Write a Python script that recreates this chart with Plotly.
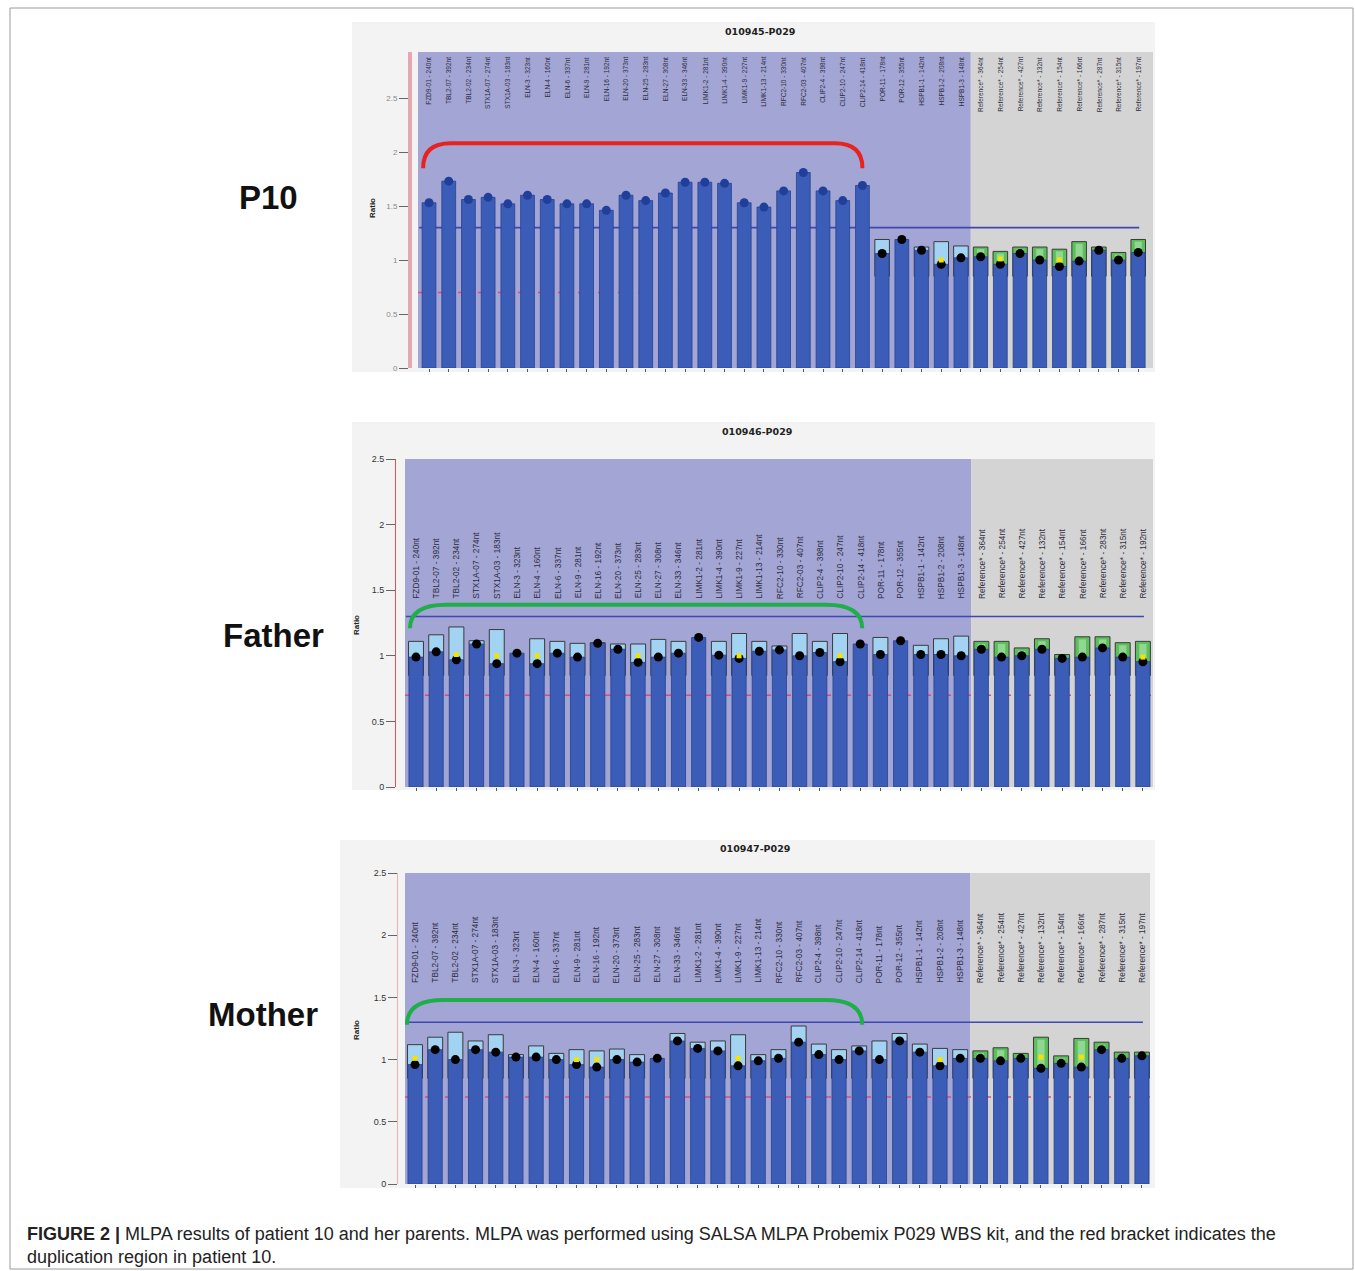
import plotly.graph_objects as go

W, H = 1355, 1271

# ---------------- data ----------------
test_probes = ["FZD9-01 - 240nt", "TBL2-07 - 392nt", "TBL2-02 - 234nt", "STX1A-07 - 274nt",
               "STX1A-03 - 183nt", "ELN-3 - 323nt", "ELN-4 - 160nt", "ELN-6 - 337nt",
               "ELN-9 - 281nt", "ELN-16 - 192nt", "ELN-20 - 373nt", "ELN-25 - 283nt",
               "ELN-27 - 308nt", "ELN-33 - 346nt", "LIMK1-2 - 281nt", "LIMK1-4 - 390nt",
               "LIMK1-9 - 227nt", "LIMK1-13 - 214nt", "RFC2-10 - 330nt", "RFC2-03 - 407nt",
               "CLIP2-4 - 398nt", "CLIP2-10 - 247nt", "CLIP2-14 - 418nt", "POR-11 - 178nt",
               "POR-12 - 355nt", "HSPB1-1 - 142nt", "HSPB1-2 - 208nt", "HSPB1-3 - 148nt"]
ref_probes_a = ["Reference* - 364nt", "Reference* - 254nt", "Reference* - 427nt",
                "Reference* - 132nt", "Reference* - 154nt", "Reference* - 166nt",
                "Reference* - 287nt", "Reference* - 315nt", "Reference* - 197nt"]
ref_probes_b = ["Reference* - 364nt", "Reference* - 254nt", "Reference* - 427nt",
                "Reference* - 132nt", "Reference* - 154nt", "Reference* - 166nt",
                "Reference* - 283nt", "Reference* - 315nt", "Reference* - 192nt"]

panel_titles = ["010945-P029", "010946-P029", "010947-P029"]
panel_names = ["P10", "Father", "Mother"]

p10_ratio = [1.53, 1.73, 1.56, 1.58, 1.52, 1.60, 1.56, 1.52, 1.52, 1.46, 1.60, 1.55,
             1.62, 1.72, 1.72, 1.71, 1.53, 1.49, 1.64, 1.81, 1.64, 1.55, 1.69,
             1.06, 1.19, 1.09, 0.96, 1.02,
             1.03, 0.96, 1.06, 1.00, 0.94, 0.99, 1.09, 1.00, 1.07]
p10_box = [None] * 23 + [1.19, None, 1.12, 1.17, 1.13,
                         1.12, 1.08, 1.12, 1.12, 1.10, 1.17, 1.12, 1.07, 1.19]
p10_mark = [None] * 26 + [1.00, None, None, 1.01, None, None, 1.00, None, None, None, None]

father_ratio = [0.99, 1.03, 0.97, 1.09, 0.94, 1.02, 0.94, 1.02, 0.99, 1.095, 1.05, 0.95,
                0.99, 1.02, 1.14, 1.005, 0.98, 1.035, 1.045, 1.00, 1.025, 0.955, 1.09,
                1.01, 1.115, 1.01, 1.01, 1.00,
                1.05, 0.99, 1.00, 1.05, 0.98, 0.99, 1.06, 0.99, 0.955]
father_box = [1.11, 1.16, 1.22, 1.115, 1.20, None, 1.13, 1.11, 1.095, 1.10, 1.09, 1.09,
              1.125, 1.11, None, 1.11, 1.17, 1.11, 1.075, 1.17, 1.11, 1.17, None,
              1.14, None, 1.08, 1.13, 1.15,
              1.11, 1.11, 1.06, 1.13, 1.01, 1.145, 1.145, 1.10, 1.11]
father_mark = [None, None, 1.01, None, 1.00, None, 1.00, None, None, None, None, 1.00,
               None, None, None, None, 1.00, None, None, None, None, 1.00, None,
               None, None, None, None, None,
               None, None, None, None, None, None, None, None, 0.99]

mother_ratio = [0.96, 1.08, 1.00, 1.08, 1.06, 1.02, 1.02, 1.00, 0.96, 0.94, 1.00, 0.98,
                1.01, 1.15, 1.09, 1.07, 0.95, 0.99, 1.01, 1.14, 1.04, 1.00, 1.07,
                1.00, 1.15, 1.06, 0.95, 1.01,
                1.01, 0.99, 1.01, 0.93, 0.97, 0.94, 1.08, 1.01, 1.03]
mother_box = [1.12, 1.18, 1.22, 1.15, 1.20, 1.04, 1.11, 1.05, 1.08, 1.07, 1.085, 1.04,
              None, 1.21, 1.14, 1.15, 1.20, 1.04, 1.08, 1.27, 1.125, 1.08, 1.11,
              1.15, 1.21, 1.125, 1.09, 1.08,
              1.07, 1.095, 1.05, 1.18, 1.03, 1.17, 1.14, 1.06, 1.06]
mother_mark = [1.01, None, None, None, None, None, None, None, 1.00, 1.00, None, None,
               None, None, None, None, 1.01, None, None, None, None, None, None,
               None, None, None, 1.00, None,
               None, None, None, 1.02, None, 1.02, None, None, None]

y_ticks = [0, 0.5, 1, 1.5, 2, 2.5]
y_tick_text = ["0", "0.5", "1", "1.5", "2", "2.5"]
upper_limit = 1.3
lower_limit = 0.7

# ---------------- layout helpers ----------------
def px_x(p):
    return p / W

def px_y(p):
    return 1 - p / H

n = len(test_probes) + len(ref_probes_a)
n_test = len(test_probes)
idx = list(range(n))

panels = [
    dict(ratio=p10_ratio, box=p10_box, mark=p10_mark, labels=test_probes + ref_probes_a,
         xdom=(418, 1153), ydom=(52, 368), xr=(-0.56, 36.75), yr=(0, 2.926),
         axis_px=410, axis_color="#e6a8b0", axis_w=4, tickfont=dict(size=8, color="#8a8a8a"),
         bg=(352, 22, 1155, 372), title_xy=(760, 31), name_xy=(268, 198), ratio_xy=(372, 208),
         lab_y=2.9, lab_anchor="top", lab_size=6.5,
         bracket=dict(xl=-0.3, xr=22.0, yb=1.85, yt=2.08, rx=1.4, color="#e8231f"),
         dot_color=["#1f3f9a"] * 23 + ["#000000"] * 14, dot_size=9),
    dict(ratio=father_ratio, box=father_box, mark=father_mark, labels=test_probes + ref_probes_b,
         xdom=(405, 1153), ydom=(459, 787), xr=(-0.545, 36.5), yr=(0, 2.5),
         axis_px=395, axis_color="#d9534f", axis_w=1, tickfont=dict(size=9, color="#333333"),
         bg=(352, 422, 1155, 790), title_xy=(757, 432), name_xy=(273, 635), ratio_xy=(356, 625),
         lab_y=1.42, lab_anchor="bottom", lab_size=8.3,
         bracket=dict(xl=-0.3, xr=22.1, yb=1.21, yt=1.39, rx=1.8, color="#1fae4a"),
         dot_color=["#000000"] * n, dot_size=9),
    dict(ratio=mother_ratio, box=mother_box, mark=mother_mark, labels=test_probes + ref_probes_a,
         xdom=(405, 1150), ydom=(873, 1184), xr=(-0.495, 36.4), yr=(0, 2.5),
         axis_px=397, axis_color="#e8b0b0", axis_w=1, tickfont=dict(size=9, color="#333333"),
         bg=(340, 840, 1155, 1188), title_xy=(755, 848), name_xy=(263, 1014), ratio_xy=(356, 1030),
         lab_y=1.6, lab_anchor="bottom", lab_size=8.3,
         bracket=dict(xl=-0.4, xr=22.15, yb=1.28, yt=1.48, rx=1.8, color="#1fae4a"),
         dot_color=["#000000"] * n, dot_size=9),
]

fig = go.Figure()
shapes = []
annotations = []
layout_axes = {}

BOX_BASE = 0.85
purple = "#a3a5d5"
grey = "#d4d4d4"

for k, p in enumerate(panels):
    sfx = "" if k == 0 else str(k + 1)
    xa, ya = "x" + sfx, "y" + sfx
    xkey, ykey = "xaxis" + sfx, "yaxis" + sfx

    # panel image background
    bx0, by0, bx1, by1 = p["bg"]
    shapes.append(dict(type="rect", xref="paper", yref="paper", x0=px_x(bx0), x1=px_x(bx1),
                       y0=px_y(by1), y1=px_y(by0), fillcolor="#f3f3f3", line=dict(width=0),
                       layer="below"))
    # purple (test) and grey (reference) regions
    shapes.append(dict(type="rect", xref=xa, yref=ya + " domain", x0=p["xr"][0], x1=n_test - 0.5,
                       y0=0, y1=1, fillcolor=purple, line=dict(width=0), layer="below"))
    shapes.append(dict(type="rect", xref=xa, yref=ya + " domain", x0=n_test - 0.5, x1=p["xr"][1],
                       y0=0, y1=1, fillcolor=grey, line=dict(width=0), layer="below"))
    # limit lines
    shapes.append(dict(type="line", xref=xa, yref=ya, x0=-0.5, x1=36.05, y0=upper_limit,
                       y1=upper_limit, line=dict(color="#3f47b3", width=1.6), layer="below"))
    shapes.append(dict(type="line", xref=xa, yref=ya, x0=p["xr"][0], x1=p["xr"][1], y0=lower_limit,
                       y1=lower_limit, line=dict(color="#e8457a", width=1.5, dash="6px,14px"),
                       layer="below"))
    # bracket
    b = p["bracket"]
    path = (f"M {b['xl']},{b['yb']} Q {b['xl']},{b['yt']} {b['xl'] + b['rx']},{b['yt']} "
            f"L {b['xr'] - b['rx']},{b['yt']} Q {b['xr']},{b['yt']} {b['xr']},{b['yb']}")
    shapes.append(dict(type="path", xref=xa, yref=ya, path=path,
                       line=dict(color=b["color"], width=4), layer="above"))

    # range boxes
    box_h = [None if v is None else v - BOX_BASE for v in p["box"]]
    box_col = ["#a2d3f3"] * n_test + ["#5cbf5c"] * (n - n_test)
    fig.add_trace(go.Bar(x=idx, y=box_h, base=BOX_BASE, width=0.74, xaxis=xa, yaxis=ya,
                         marker=dict(color=box_col, line=dict(color="#3a3a3a", width=1)),
                         hoverinfo="skip"))
    # lighter centre of the reference boxes (gradient look)
    inner_h = [None if (v is None or i < n_test) else v - BOX_BASE - 0.02
               for i, v in enumerate(p["box"])]
    fig.add_trace(go.Bar(x=idx, y=inner_h, base=BOX_BASE, width=0.36, xaxis=xa, yaxis=ya,
                         marker=dict(color="rgba(190,235,190,0.55)", line=dict(width=0)),
                         hoverinfo="skip"))
    # ratio bars
    fig.add_trace(go.Bar(x=idx, y=p["ratio"], width=0.7, xaxis=xa, yaxis=ya,
                         marker=dict(color="#3b5db8", line=dict(color="#27418f", width=0.8))))
    # dots
    fig.add_trace(go.Scatter(x=idx, y=p["ratio"], mode="markers", xaxis=xa, yaxis=ya,
                             marker=dict(color=p["dot_color"], size=p["dot_size"])))
    # yellow markers
    fig.add_trace(go.Scatter(x=idx, y=p["mark"], mode="markers", xaxis=xa, yaxis=ya,
                             marker=dict(color="#f2e400", size=5, symbol="square")))

    layout_axes[xkey] = dict(domain=[px_x(p["xdom"][0]), px_x(p["xdom"][1])], range=list(p["xr"]),
                             anchor=ya, showgrid=False, zeroline=False, showline=False,
                             tickmode="array", tickvals=idx, showticklabels=False,
                             ticks="outside", ticklen=3, tickcolor="#555555", fixedrange=True)
    layout_axes[ykey] = dict(domain=[px_y(p["ydom"][1]), px_y(p["ydom"][0])], range=list(p["yr"]),
                             anchor="free", position=px_x(p["axis_px"]), showgrid=False,
                             zeroline=False, showline=True, linecolor=p["axis_color"],
                             linewidth=p["axis_w"], tickmode="array", tickvals=y_ticks,
                             ticktext=y_tick_text, ticks="outside", ticklen=9,
                             tickcolor="#666666", tickfont=dict(family="Liberation Sans", **p["tickfont"]),
                             fixedrange=True)

    # probe labels
    for i, lab in enumerate(p["labels"]):
        annotations.append(dict(x=i, y=p["lab_y"], xref=xa, yref=ya, text=lab, showarrow=False,
                                textangle=-90, yanchor=p["lab_anchor"], xanchor="center",
                                font=dict(family="Liberation Sans", size=p["lab_size"],
                                          color="#2e2e40")))
    # title
    tx, ty = p["title_xy"]
    annotations.append(dict(x=px_x(tx), y=px_y(ty), xref="paper", yref="paper",
                            xanchor="center", yanchor="middle",
                            text="<b>" + panel_titles[k] + "</b>", showarrow=False,
                            font=dict(family="DejaVu Sans", size=9.5, color="#222222")))
    # ratio
    rx, ry = p["ratio_xy"]
    annotations.append(dict(x=px_x(rx), y=px_y(ry), xref="paper", yref="paper", text="<b>Ratio</b>",
                            xanchor="center", yanchor="middle",
                            showarrow=False, textangle=-90,
                            font=dict(family="Liberation Sans", size=8, color="#222222")))
    # panel name
    nx, ny = p["name_xy"]
    annotations.append(dict(x=px_x(nx), y=px_y(ny), xref="paper", yref="paper",
                            xanchor="center", yanchor="middle",
                            text="<b>" + panel_names[k] + "</b>", showarrow=False,
                            font=dict(family="Liberation Sans", size=33, color="#111111")))

# outer frame
shapes.append(dict(type="rect", xref="paper", yref="paper", x0=px_x(10), x1=px_x(1353),
                   y0=px_y(1269), y1=px_y(8), line=dict(color="#9a9a9a", width=1),
                   fillcolor="rgba(0,0,0,0)", layer="below"))

caption = ("<b>FIGURE 2 |</b> MLPA results of patient 10 and her parents. MLPA was performed using "
           "SALSA MLPA Probemix P029 WBS kit, and the red bracket indicates the<br>"
           "duplication region in patient 10.")
annotations.append(dict(x=px_x(25), y=px_y(1245), xref="paper", yref="paper", text=caption,
                        showarrow=False, xanchor="left", yanchor="middle", align="left",
                        font=dict(family="Liberation Sans", size=18, color="#222222")))

fig.update_layout(width=W, height=H,
                  margin=dict(l=0, r=0, t=0, b=0, pad=0, autoexpand=False),
                  paper_bgcolor="white",
                  plot_bgcolor="rgba(0,0,0,0)", showlegend=False, barmode="overlay",
                  shapes=shapes, annotations=annotations, **layout_axes)

fig.write_html("out.html")
